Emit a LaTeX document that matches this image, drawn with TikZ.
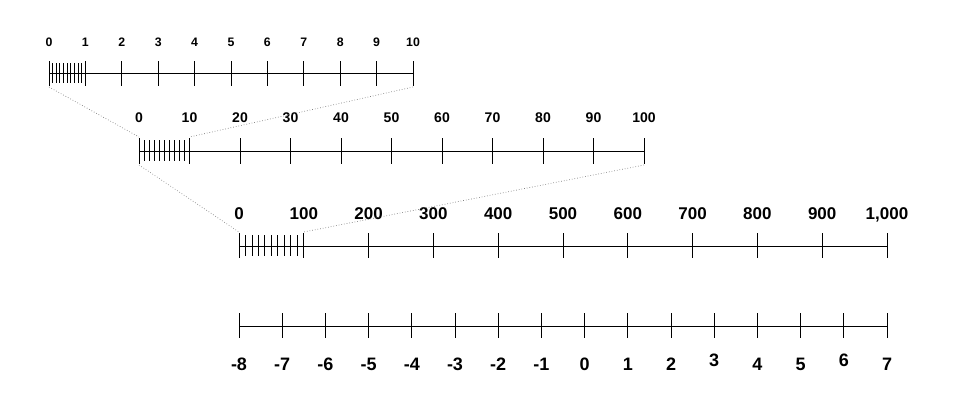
\documentclass[tikz,border=0pt]{standalone}
\usepackage{fontspec}
\setmainfont{Liberation Sans}
\begin{document}
\begin{tikzpicture}[x=1pt,y=-1pt,
  axis/.style={line width=0.9pt,black},
  zoomline/.style={gray,dotted,line width=0.7pt},
  lab/.style={font=\bfseries\fontsize{#1}{#1}\selectfont,inner sep=0pt,anchor=base},
]
\useasboundingbox (0,0) rectangle (960,405);
% ---------- line 1 : 0..10 ----------
\coordinate (a0) at (49,73);
\coordinate (a10) at (413,73);
\draw[axis] (a0) -- (a10);
\foreach \i in {0,...,10}{
  \draw[axis] ({49+36.4*\i},61) -- ({49+36.4*\i},86);
  \node[lab=12.3] (la\i) at ({49+36.4*\i},46) {\i};
}
\foreach \j in {1,...,9}{
  \draw[axis] ({49+3.64*\j},63) -- ({49+3.64*\j},83);
}
\coordinate (a0b) at (49,87);
\coordinate (a10b) at (413,87);
% ---------- line 2 : 0..100 ----------
\coordinate (b0) at (139,151);
\coordinate (b10) at (644,151);
\draw[axis] (b0) -- (b10);
\foreach \i in {0,...,10}{
  \draw[axis] ({139+50.5*\i},138) -- ({139+50.5*\i},164);
  \pgfmathtruncatemacro\v{10*\i}
  \node[lab=14] (lb\i) at ({139+50.5*\i},122) {\v};
}
\foreach \j in {1,...,9}{
  \draw[axis] ({139+5.05*\j},140) -- ({139+5.05*\j},161);
}
\coordinate (b0t) at (139,137);
\coordinate (b1t) at (189.5,137);
\coordinate (b0b) at (139,165);
\coordinate (b10b) at (644,165);
% ---------- line 3 : 0..1,000 ----------
\coordinate (c0) at (239,246);
\coordinate (c10) at (887,246);
\draw[axis] (c0) -- (c10);
\foreach \i/\t in {0/0,1/100,2/200,3/300,4/400,5/500,6/600,7/700,8/800,9/900,10/{1,000}}{
  \draw[axis] ({239+64.8*\i},233) -- ({239+64.8*\i},258);
  \node[lab=17] (lc\i) at ({239+64.8*\i},219) {\t};
}
\foreach \j in {1,...,9}{
  \draw[axis] ({239+6.48*\j},235) -- ({239+6.48*\j},256);
}
\coordinate (c0t) at (239,232);
\coordinate (c1t) at (303.8,232);
% ---------- zoom connectors ----------
\draw[zoomline] (a0b) -- (b0t);
\draw[zoomline] (a10b) -- (b1t);
\draw[zoomline] (b0b) -- (c0t);
\draw[zoomline] (b10b) -- (c1t);
% ---------- line 4 : -8..7 ----------
\coordinate (d0) at (239,326);
\coordinate (d15) at (887,326);
\draw[axis] (d0) -- (d15);
\foreach \i in {0,...,15}{
  \draw[axis] ({239+43.2*\i},313) -- ({239+43.2*\i},338);
  \pgfmathtruncatemacro\v{\i-8}
  \pgfmathsetmacro\dy{ifthenelse(or(\v==3,\v==6),4,0)}
  \node[lab=18] (ld\i) at ({239+43.2*\i},{370.5-\dy}) {\v};
}
\end{tikzpicture}
\end{document}
